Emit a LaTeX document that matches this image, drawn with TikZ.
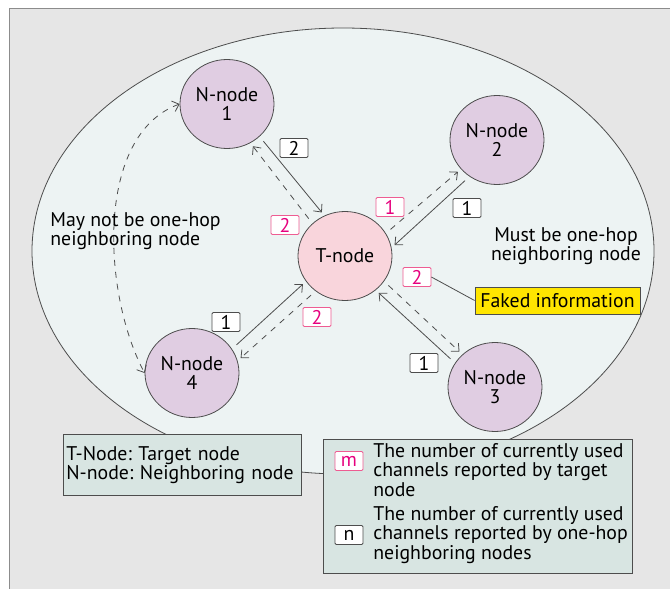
\documentclass[tikz,border=0pt]{standalone}
\usepackage{fontspec}
\setmainfont{PT Sans}
\usetikzlibrary{shapes.geometric, arrows.meta}
\frenchspacing

\definecolor{bggray}{HTML}{E6E6E6}
\definecolor{framegray}{HTML}{8C8C8C}
\definecolor{ellfill}{HTML}{EDF3F3}
\definecolor{nfill}{HTML}{E0CDE2}
\definecolor{tfill}{HTML}{F9D5DC}
\definecolor{lineclr}{HTML}{4D4D4D}
\definecolor{pinkline}{HTML}{EE5C92}
\definecolor{pinktext}{HTML}{E6007E}
\definecolor{legfill}{HTML}{D8E5E2}
\definecolor{fakeyellow}{HTML}{FFE500}

\begin{document}
\begin{tikzpicture}[x=0.5pt, y=-0.5pt, >={Straight Barb[length=3pt, width=5.5pt]}, font=\fontsize{9.9}{9.6}\selectfont]
    \tikzset{nnode/.style={ellipse, draw=lineclr, fill=nfill, minimum width=47pt, minimum height=44.5pt, inner sep=0pt, align=center},
      tnode/.style={nnode, fill=tfill},
      blkbox/.style={draw=lineclr, fill=white, minimum width=14pt, minimum height=9.5pt, inner sep=0pt, rounded corners=0.6pt},
      pnkbox/.style={blkbox, draw=pinkline, text=pinktext},
      legbox/.style={draw=lineclr, fill=legfill, inner sep=0pt},
      msg/.style={->, lineclr, shorten <=3pt, shorten >=2pt}}
    \clip (0,0) rectangle (670,589);
    \fill[bggray] (9,8) rectangle (680,600);
    \draw[framegray] (9,600) -- (9,8) -- (680,8);
    \draw[lineclr, fill=ellfill] (343,251) ellipse [x radius=311, y radius=223];
    % nodes
    \node[nnode] (n1) at (227,104) {N-node\\1};
    \node[nnode] (n2) at (497,140) {N-node\\2};
    \node[nnode] (n3) at (495,387) {N-node\\3};
    \node[nnode] (n4) at (192,373) {N-node\\4};
    \node[tnode] (t) at (345,256) {T-node};
    % reports
    \draw[msg] (n1.-45) -- (t.117);
    \draw[msg, dashed] (t.135) -- (n1.-59);
    \draw[msg, dashed] (t.29) -- (n2.219);
    \draw[msg] (n2.233) -- (t.10);
    \draw[msg] (n4.31) -- (t.213);
    \draw[msg, dashed] (t.230) -- (n4.15);
    \draw[msg] (n3.149) -- (t.-48);
    \draw[msg, dashed] (t.-33) -- (n3.135);
    \draw[<->, lineclr, dashed] (n1.west) to[out=200, in=118, looseness=0.85] (n4.west);
    % channel counts
    \node[blkbox] (b1) at (294,148) {2};
    \node[pnkbox] (p1) at (285,225) {2};
    \node[pnkbox] (p2) at (390,207) {1};
    \node[blkbox] (b2) at (467,208) {1};
    \node[pnkbox] (p3) at (417,277) {2};
    \node[blkbox] (b3) at (226,322) {1};
    \node[pnkbox] (p4) at (317,317) {2};
    \node[blkbox] (b4) at (424,363) {1};
    \node[draw=lineclr, fill=fakeyellow, minimum width=82.5pt, minimum height=13.5pt, inner sep=0pt] (fake) at (557.5,300.5) {Faked information};
    \draw[lineclr] (p3.east) -- (fake.west);
    \node[align=left, anchor=west, inner sep=0pt] (maynot) at (50,231) {May not be one-hop\\neighboring node};
    \node[align=center] (must) at (566,246) {Must be one-hop\\neighboring node};
    % legend
    \node[legbox, anchor=north west, minimum height=30.5pt, text width=116pt, inner xsep=1.5pt, align=left] (key) at (63,434) {T-Node: Target node\\N-node: Neighboring node};
    \node[legbox, anchor=north west, minimum width=154.5pt, minimum height=67pt] (expl) at (323,439) {};
    \node[pnkbox] (mbox) at (349,461) {m};
    \node[blkbox] (nbox) at (349,535) {n};
    \node[align=left, anchor=west, inner sep=0pt] (mtext) at (373,470) {The number of currently used\\channels reported by target\\node};
    \node[align=left, anchor=west, inner sep=0pt] (ntext) at (373,535) {The number of currently used\\channels reported by one-hop\\neighboring nodes};
\end{tikzpicture}
\end{document}
